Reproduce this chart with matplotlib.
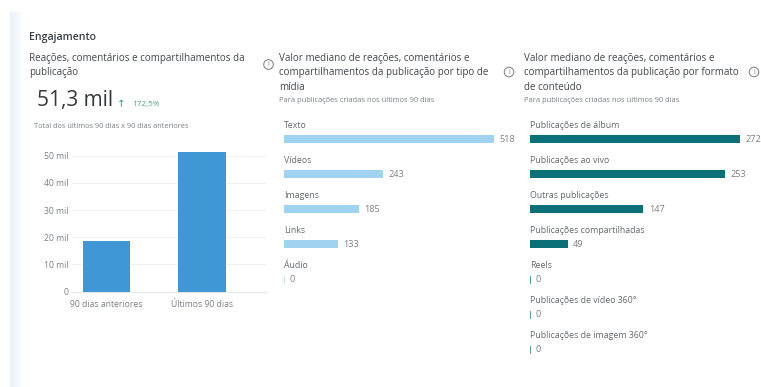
import matplotlib
matplotlib.use("Agg")
import matplotlib.pyplot as plt
import numpy as np
from matplotlib.colors import LinearSegmentedColormap
from matplotlib.patches import Circle

plt.rcParams['font.family'] = ['Open Sans', 'DejaVu Sans']

W, H = 761, 387

period_labels = ["90 dias anteriores", "Últimos 90 dias"]
period_values = [18.8, 51.3]
y_ticks = [0, 10, 20, 30, 40, 50]
y_tick_labels = ["0", "10 mil", "20 mil", "30 mil", "40 mil", "50 mil"]

media_labels = ["Texto", "Vídeos", "Imagens", "Links", "Áudio"]
media_values = [518, 243, 185, 133, 0]

format_labels = ["Publicações de álbum", "Publicações ao vivo", "Outras publicações",
                 "Publicações compartilhadas", "Reels", "Publicações de vídeo 360°",
                 "Publicações de imagem 360°"]
format_values = [272, 253, 147, 49, 0, 0, 0]

DARK = "#43484c"
MID = "#65696d"
LIGHT = "#7b8084"

fig = plt.figure(figsize=(W / 100, H / 100), dpi=100, facecolor="white")


def px_axes(x0, y0, x1, y1, **kw):
    """Axes placed by pixel box, with y measured from the top of the figure."""
    return fig.add_axes([x0 / W, 1 - y1 / H, (x1 - x0) / W, (y1 - y0) / H], **kw)


def label(x, y, s, size=6.5, color=MID, **kw):
    kw.setdefault("va", "center")
    fig.text(x / W, 1 - y / H, s, fontsize=size, color=color, **kw)


# Page background: pale band fading out to the right, near the left edge
bg = px_axes(0, 0, W, H)
bg.set_xlim(0, W)
bg.set_ylim(H, 0)
bg.axis("off")
fade = LinearSegmentedColormap.from_list("fade", ["#e8f1f9", "#f4f8fc", "#ffffff"])
bg.imshow(np.linspace(0, 1, 64)[None, :], cmap=fade, aspect="auto",
          extent=(10, 24, H, 12), interpolation="bilinear")
bg.set_xlim(0, W)
bg.set_ylim(H, 0)


def info_icon(x, y):
    bg.add_patch(Circle((x, y), 4.8, fill=False, ec="#777c80", lw=0.7))
    bg.text(x, y, "i", fontsize=5, color="#777c80", ha="center", va="center")


# Section and panel headings
label(29, 37.5, "Engajamento", size=7.6, color="#3a3f43", fontweight="semibold")
for y, s in [(58, "Reações, comentários e compartilhamentos da"), (72, "publicação")]:
    label(29, y, s, size=7.1, color=DARK)
for y, s in [(58, "Valor mediano de reações, comentários e"),
             (72.5, "compartilhamentos da publicação por tipo de"),
             (87, "mídia")]:
    label(279, y, s, size=7.15, color=DARK)
for y, s in [(58, "Valor mediano de reações, comentários e"),
             (72.5, "compartilhamentos da publicação por formato"),
             (87, "de conteúdo")]:
    label(524, y, s, size=7.1, color=DARK)
label(279, 100.5, "Para publicações criadas nos últimos 90 dias", size=5.4, color=LIGHT)
label(524, 100.5, "Para publicações criadas nos últimos 90 dias", size=5.4, color=LIGHT)
info_icon(268.5, 64.5)
info_icon(509, 72)
info_icon(754, 72)

# Headline figure
label(37, 100.5, "51,3 mil", size=15, color="#34393d")
label(117, 104, "↑", size=7.5, color="#3d9a78", family=['DejaVu Sans'])
label(132, 104.5, "172,5%", size=5.9, color="#4ba586")
label(34, 126, "Total dos últimos 90 dias x 90 dias anteriores", size=5.35, color=LIGHT)

# Period comparison columns
ax = px_axes(72, 152, 266, 291.7)
ax.bar([0, 1], period_values, width=0.495, color="#3f97d6", zorder=3)
ax.set_xlim(-0.36, 1.671)
ax.set_ylim(0, 51.3)
ax.set_yticks(y_ticks, y_tick_labels, fontsize=6.2, color=LIGHT)
ax.set_xticks([0, 1], period_labels, fontsize=6.2, color=LIGHT)
ax.tick_params(axis="y", length=0, pad=2.2)
ax.tick_params(axis="x", length=0, pad=6)
ax.grid(axis="y", color="#f0f1f2", lw=0.8, zorder=0)
for side in ["top", "right", "left"]:
    ax.spines[side].set_visible(False)
ax.spines["bottom"].set_color("#e6e8e9")


def hbars(x0, x1, y_first, values, labels, vmax, color):
    """One row per category: caption above, bar below, value to the right."""
    step = 35.0
    n = len(values)
    ax = px_axes(x0, y_first - step + 5, x1, y_first + step * (n - 1) + 5)
    ax.set_xlim(0, vmax)
    ax.set_ylim((n - 1) * step + 5, -step + 5)
    ax.axis("off")
    for r, (v, name) in enumerate(zip(values, labels)):
        y = r * step
        ax.barh(y, v, height=8, color=color, lw=0)
        if v == 0:
            ax.plot([0, 0], [y - 3.5, y + 3.5], color=color, lw=0.7, alpha=0.7)
        ax.annotate(str(v), (v, y), xytext=(3.8, 0), textcoords="offset points",
                    fontsize=6.6, color=LIGHT, va="center")
        ax.annotate(name, (0, y), xytext=(0, 10), textcoords="offset points",
                    fontsize=6.3, color=MID, va="center")


hbars(284.3, 494.3, 139.3, media_values, media_labels, 518, "#9fd3f0")
hbars(530, 740, 139.3, format_values, format_labels, 272, "#0b7078")

fig.savefig("out.png", dpi=100)
